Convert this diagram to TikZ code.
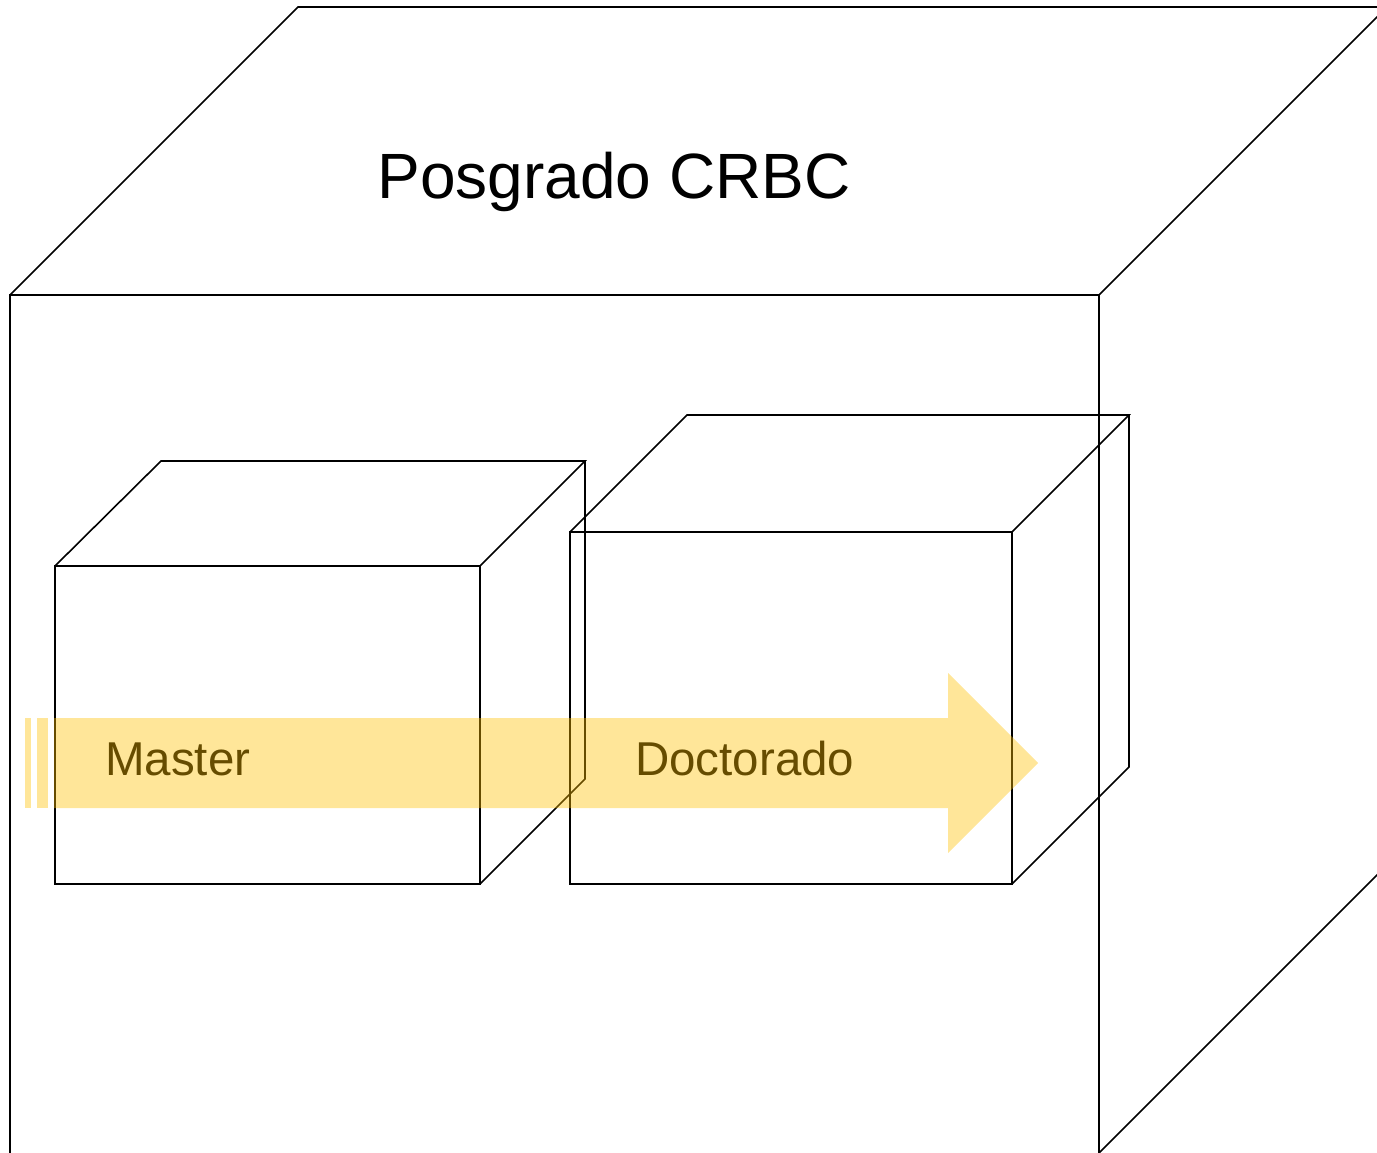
\documentclass[tikz,border=0pt]{standalone}
\usepackage{fontspec}
\setmainfont{Liberation Sans}
\begin{document}
\begin{tikzpicture}[x=1pt,y=-1pt,
  edge/.style={draw=black,line width=1.6pt,line join=miter},
  flow/.style={fill={rgb,255:red,255;green,192;blue,0},fill opacity=0.4,draw=none},
  lbl/.style={anchor=base west,inner sep=0pt,font=\fontsize{47.5}{50}\selectfont,text=black}]
\useasboundingbox (0,0) rectangle (1377,1153);
\begin{scope}
\clip (0,0) rectangle (1377,1153);
% big cube
\draw[edge] (10,1200) -- (10,295) -- (1099,295) -- (1099,1200);
\draw[edge] (10,295) -- (298,7) -- (1400,7);
\draw[edge] (1099,295) -- (1387,7);
\draw[edge] (1099,1153) -- (1387,865);
% master cube
\draw[edge] (55,566) rectangle (480,884);
\draw[edge] (55,566) -- (161,461) -- (585,461) -- (480,566);
\draw[edge] (585,461) -- (585,779) -- (480,884);
% doctorado cube
\draw[edge] (570,532) rectangle (1012,884);
\draw[edge] (570,532) -- (687,415) -- (1129,415) -- (1012,532);
\draw[edge] (1129,415) -- (1129,767) -- (1012,884);
\end{scope}
\node[anchor=base,inner sep=0pt,font=\fontsize{64}{70}\selectfont] (title) at (614,199) {Posgrado CRBC};
\node[lbl] (master) at (105,775) {Master};
\node[lbl] (doct) at (635,775) {Doctorado};
% arrow
\fill[flow] (25,718) rectangle (31,808);
\fill[flow] (37,718) rectangle (48,808);
\fill[flow] (54,718) -- (948,718) -- (948,673) -- (1038,763) -- (948,853) -- (948,808) -- (54,808) -- cycle;
\end{tikzpicture}
\end{document}
